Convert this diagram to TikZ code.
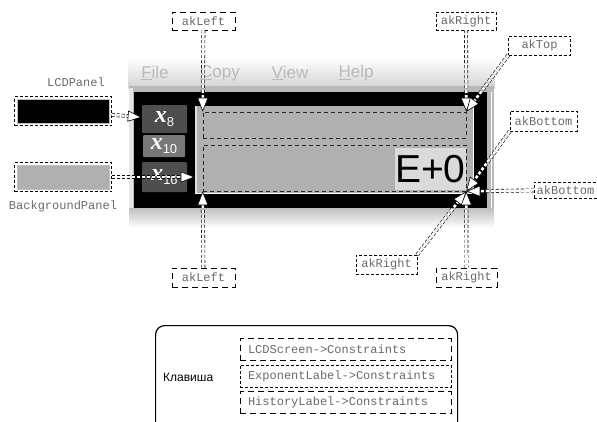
\documentclass[tikz,border=0pt]{standalone}
\usepackage{fontspec}
\setmainfont{Liberation Sans}
\setsansfont{Liberation Sans}
\setmonofont{Liberation Mono}
\newfontfamily\keyfont{Liberation Serif}
\usetikzlibrary{positioning,arrows.meta,fit}
\definecolor{Panel}{RGB}{176,176,176}
\definecolor{Tag}{RGB}{105,105,105}
\definecolor{KeyDark}{RGB}{78,78,78}
\definecolor{KeyMid}{RGB}{120,120,120}
\definecolor{Menu}{RGB}{185,185,185}
\definecolor{Lit}{RGB}{218,218,218}
\newcommand\kx[1]{{\keyfont\bfseries\itshape\fontsize{24}{24}\selectfont x}\raisebox{-4pt}{\sffamily\fontsize{13}{13}\selectfont #1}}

\begin{document}
\begin{tikzpicture}[x=1pt,y=-1pt,
 tag/.style={draw,dash pattern=on 3pt off 2pt,font=\ttfamily\fontsize{12}{12}\selectfont,text=Tag,minimum height=18pt,inner sep=0pt},
 tagl/.style={tag,dash pattern=on 6pt off 4pt},
 mono/.style={font=\ttfamily\fontsize{12}{12}\selectfont,text=Tag,inner sep=0pt},
 con/.style={draw=black,line width=.6pt,dash pattern=on 0pt off 1000pt,-{Triangle[length=14pt,width=11pt,fill=white]},
   preaction={draw,-,double=white,double distance=2.6pt,dash pattern=on 3pt off 2pt,shorten >=12pt}},
 key/.style={fill=KeyDark,rounded corners=1pt,minimum width=45pt,minimum height=28pt,text=white,inner sep=0pt},
 area/.style={draw=black!85,dash pattern=on 4pt off 3pt,line width=.6pt,inner sep=0pt},
 sw/.style={draw=gray!50,line width=1pt,minimum width=92pt,minimum height=24pt,inner sep=0pt},
 frm/.style={draw,dash pattern=on 3pt off 2pt,inner sep=2pt},
 menu/.style={text=Menu,font=\fontsize{17}{17}\selectfont,inner sep=0pt},
 cbox/.style={draw,font=\ttfamily\fontsize{12}{12}\selectfont,text=Tag,text width=195pt,align=left,inner xsep=8pt,minimum height=22pt,inner ysep=0pt}]
\useasboundingbox (0,0) rectangle (597,421);

% window
\shade[top color=white,bottom color=gray!35] (128,58) rectangle (495,88);
\fill[gray!55] (129,86) rectangle (494,210);
\fill[gray!20] (129,88) rectangle (133,210);
\fill[black] (134,92) rectangle (487,208);
\draw[white,line width=1pt] (491,92) -- (491,208);
\shade[top color=gray!50,bottom color=white] (129,208) rectangle (494,228);
\node[menu] (mFile) at (155,73) {\underline{F}ile};
\node[menu] (mCopy) at (220,73) {\underline{C}opy};
\node[menu] (mView) at (290,73) {\underline{V}iew};
\node[menu] (mHelp) at (356,73) {\underline{H}elp};

% keys
\node[key] (k8) at (164.5,119) {\kx{8}};
\node[key,fill=KeyMid,minimum width=42pt,minimum height=22pt] (k10) at (164,146) {\kx{10}};
\node[key,minimum height=30pt] (k16) at (164.5,177) {\kx{16}};

% display
\node[fill=Panel,minimum width=278pt,minimum height=87pt,inner sep=0pt] (lcd) at (334,149.5) {};
\draw[gray!25,line width=2pt] (lcd.north west) ++(1,0) -- ++(0,87);
\draw[white,line width=1.2pt] (lcd.north east) -- (lcd.south east) -- (lcd.south west);
\node[fill=Lit,minimum width=71pt,minimum height=42pt,anchor=south east,inner sep=0pt,
  font=\fontsize{39}{39}\selectfont] (ex) at (466,190) {E+0};
\node[area,minimum width=263pt,minimum height=26pt] (scr) at (334.5,125) {};
\node[area,minimum width=263pt,minimum height=46pt] (exp) at (334.5,168) {};

% swatches
\node[sw,fill=black] (lcdsw) at (63,111) {};
\node[frm,fit=(lcdsw)] (lcdp) {};
\node[mono] (lcdl) at (76,82) {LCDPanel};
\node[sw,fill=Panel] (bgsw) at (63,177) {};
\node[frm,fit=(bgsw)] (bgp) {};
\node[mono,below=9pt of bgp] (bgl) {BackgroundPanel};

% anchor tags
\node[tagl,minimum width=63pt] (lL1) at (203.5,21) {akLeft};
\node[tag,minimum width=60pt] (lR1) at (466,21) {akRight};
\node[tag,minimum width=62pt,minimum height=19pt] (lT) at (539.5,45.5) {akTop};
\node[tag,minimum width=67pt,minimum height=20pt] (lB1) at (543.5,121) {akBottom};
\node[tag,minimum width=63pt,minimum height=16pt] (lB2) at (565.5,190) {akBottom};
\node[tag,minimum width=61pt,minimum height=19pt] (lR2) at (386.5,264.5) {akRight};
\node[tagl,minimum width=63pt,minimum height=19pt] (lL2) at (203.5,277.5) {akLeft};
\node[tagl,minimum width=61pt,minimum height=19pt] (lR3) at (466.5,277.5) {akRight};

\draw[con] (lcdp) -- (k8);
\draw[con] (bgp.east) -- (bgp.east -| lcd.west);
\draw[con] (lL1) -- (scr.north west);
\draw[con] (lR1) -- (scr.north east);
\draw[con] (lT.south west) -- (scr.north east);
\draw[con] (lB1.south west) -- (exp.south east);
\draw[con] (lB2) -- (exp.south east);
\draw[con] (lR2.north east) -- (exp.south east);
\draw[con] (lL2) -- (exp.south west);
\draw[con] (lR3) -- (exp.south east);

% key constraints
\node[draw,line width=1.2pt,rounded corners=9pt,minimum width=302pt,minimum height=120pt,anchor=north west] (klav) at (155,325) {};
\node[anchor=west,font=\fontsize{12}{12}\selectfont,inner sep=0pt] (klavl) at (163,377) {Клавиша};
\node[cbox,dash pattern=on 6pt off 4pt] (cScr) at (345.5,349.5) {LCDScreen->Constraints};
\node[cbox,dash pattern=on 3pt off 2pt] (cExp) at (345.5,376) {ExponentLabel->Constraints};
\node[cbox,dash pattern=on 6pt off 4pt] (cHist) at (345.5,402.5) {HistoryLabel->Constraints};
\end{tikzpicture}
\end{document}
